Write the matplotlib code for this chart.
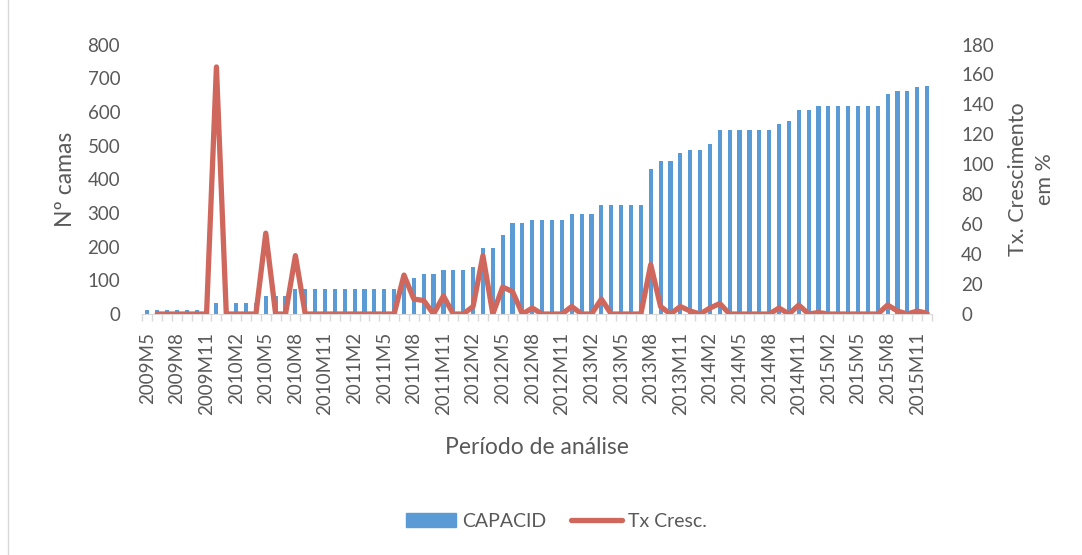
import numpy as np
import matplotlib
matplotlib.use("Agg")
import matplotlib.pyplot as plt
from matplotlib.lines import Line2D

plt.rcParams['font.family'] = ['Lato', 'DejaVu Sans']

# monthly periods 2009M5 .. 2015M12
periods = []
for year in range(2009, 2016):
    for m in range(1, 13):
        if year == 2009 and m < 5:
            continue
        periods.append(f"{year}M{m}")

# number of beds
capacid = [12, 12, 12, 12, 12, 12, 12,
           33, 33, 33, 33, 33,
           53, 53, 53,
           75, 75, 75, 75, 75, 75, 75, 75, 75, 75, 75,
           95, 106, 118, 118, 131, 131, 131, 140, 197, 197, 234, 270, 270,
           280, 280, 280, 280, 296, 296, 296, 325, 325, 325, 325, 325,
           430, 453, 453, 477, 486, 486, 506,
           545, 545, 545, 545, 545, 545, 565, 572, 607, 607,
           616, 616, 616, 616, 616, 616, 616, 652, 663, 663, 675, 678]

# growth rate in %
tx_cresc = [np.nan, 0, 0, 0, 0, 0, 0,
            165, 0, 0, 0, 0,
            54, 0, 0,
            39, 0, 0, 0, 0, 0, 0, 0, 0, 0, 0,
            26, 10, 9, 0, 12, 0, 0, 5, 39, 0, 18, 15, 0,
            4, 0, 0, 0, 5, 0, 0, 10, 0, 0, 0, 0,
            33, 5, 0, 5, 2, 0, 4,
            7, 0, 0, 0, 0, 0, 4, 0, 6, 0,
            1, 0, 0, 0, 0, 0, 0, 6, 2, 0, 2, 0.5]

bar_color = '#5B9BD5'
line_color = '#CF675C'
text_color = '#595959'

x = np.arange(len(periods))

fig = plt.figure(figsize=(10.82, 5.55), dpi=100)
ax = fig.add_axes([0.1316, 0.4342, 0.7298, 0.4856])
ax2 = ax.twinx()

ax.bar(x, capacid, width=0.42, color=bar_color, zorder=2)
ax2.plot(x, tx_cresc, color=line_color, linewidth=3.8,
         solid_joinstyle='round', solid_capstyle='round', zorder=3)

ax.set_xlim(-0.5, len(periods) - 0.5)
ax.set_ylim(0, 800)
ax2.set_ylim(0, 180)
ax.set_yticks(range(0, 801, 100))
ax2.set_yticks(range(0, 181, 20))

ax.set_xticks(x[::3])
ax.set_xticklabels(periods[::3], rotation=90)
ax.set_xticks(np.arange(-0.5, len(periods)), minor=True)
ax.tick_params(axis='x', which='major', length=0, pad=13,
               labelsize=13.5, labelcolor=text_color)
ax.tick_params(axis='x', which='minor', length=5, color='#D9D9D9', width=1)
ax.tick_params(axis='y', length=0, pad=16, labelsize=13.5, labelcolor=text_color)
ax2.tick_params(axis='y', length=0, pad=21, labelsize=13.5, labelcolor=text_color)

for a in (ax, ax2):
    for s in ['top', 'left', 'right']:
        a.spines[s].set_visible(False)
ax.spines['bottom'].set_color('#D9D9D9')
ax2.spines['bottom'].set_visible(False)

ax.set_xlabel("Período de análise", fontsize=16.5, color=text_color)
ax.xaxis.label.set_va('center')
ax.xaxis.set_label_coords(0.5, -0.495)

ax.set_ylabel("Nº camas", fontsize=16.5, color=text_color)
ax.yaxis.label.set_va('center')
ax.yaxis.set_label_coords(-0.098, 0.5)

ax2.set_ylabel("Tx. Crescimento\nem %", fontsize=15.5, color=text_color,
               rotation=90, multialignment='center', linespacing=1.45)
ax2.yaxis.label.set_va('center')
ax2.yaxis.set_label_coords(1.126, 0.5)

handles = [plt.Rectangle((0, 0), 1, 1, color=bar_color),
           Line2D([0], [0], color=line_color, linewidth=3.8, solid_capstyle='round')]
leg = fig.legend(handles, ["CAPACID", "Tx Cresc."], loc='center',
                 bbox_to_anchor=(0.514, 0.061), ncol=2, frameon=False,
                 fontsize=14, handlelength=2.6, handleheight=0.68,
                 columnspacing=1.3, handletextpad=0.3)
for t in leg.get_texts():
    t.set_color(text_color)

# left border of the chart area
fig.add_artist(Line2D([8 / 1082, 8 / 1082], [0, 1], color='#D9D9D9', linewidth=1))

fig.savefig("out.png", dpi=100)
